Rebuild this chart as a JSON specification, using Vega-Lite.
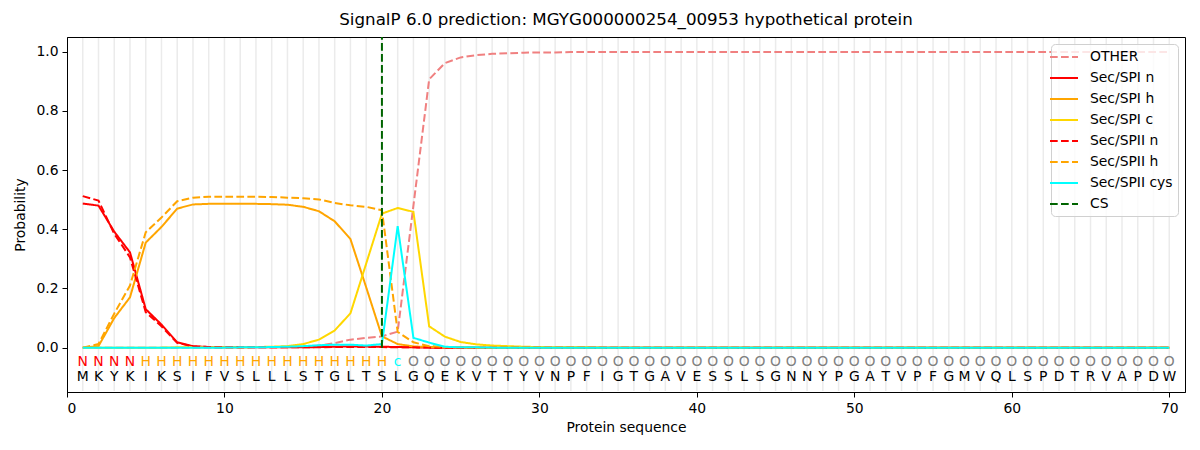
{
  "$schema": "https://vega.github.io/schema/vega-lite/v6.json",
  "autosize": {"type": "none"},
  "width": 1118,
  "height": 355,
  "padding": {"left": 67, "top": 37, "right": 15, "bottom": 58},
  "config": {
    "font": "DejaVu Sans",
    "view": {"stroke": "black", "strokeWidth": 1},
    "axis": {"domainColor": "black", "tickColor": "black", "tickSize": 5, "labelColor": "black", "titleColor": "black", "labelFontSize": 13.9, "titleFontSize": 13.9, "titleFontWeight": "normal", "grid": false, "labelPadding": 4}
  },
  "title": {"text": "SignalP 6.0 prediction: MGYG000000254_00953 hypothetical protein", "fontSize": 16.7, "fontWeight": "normal", "color": "black", "offset": 7},
  "datasets": {
    "probs": [
      {"pos":1,"aa":"M","lab":"N","other":0,"spi_n":0.487,"spi_h":0,"spi_c":0,"spii_n":0.512,"spii_h":0,"spii_cys":0},
      {"pos":2,"aa":"K","lab":"N","other":0,"spi_n":0.480,"spi_h":0.005,"spi_c":0,"spii_n":0.497,"spii_h":0.012,"spii_cys":0},
      {"pos":3,"aa":"Y","lab":"N","other":0,"spi_n":0.392,"spi_h":0.100,"spi_c":0,"spii_n":0.385,"spii_h":0.115,"spii_cys":0},
      {"pos":4,"aa":"K","lab":"N","other":0,"spi_n":0.322,"spi_h":0.170,"spi_c":0,"spii_n":0.305,"spii_h":0.210,"spii_cys":0},
      {"pos":5,"aa":"I","lab":"H","other":0,"spi_n":0.130,"spi_h":0.355,"spi_c":0,"spii_n":0.120,"spii_h":0.390,"spii_cys":0},
      {"pos":6,"aa":"K","lab":"H","other":0,"spi_n":0.078,"spi_h":0.408,"spi_c":0,"spii_n":0.072,"spii_h":0.440,"spii_cys":0},
      {"pos":7,"aa":"S","lab":"H","other":0,"spi_n":0.018,"spi_h":0.470,"spi_c":0.001,"spii_n":0.016,"spii_h":0.495,"spii_cys":0},
      {"pos":8,"aa":"I","lab":"H","other":0,"spi_n":0.005,"spi_h":0.484,"spi_c":0.001,"spii_n":0.004,"spii_h":0.507,"spii_cys":0},
      {"pos":9,"aa":"F","lab":"H","other":0,"spi_n":0.002,"spi_h":0.486,"spi_c":0.001,"spii_n":0.002,"spii_h":0.510,"spii_cys":0},
      {"pos":10,"aa":"V","lab":"H","other":0,"spi_n":0.001,"spi_h":0.486,"spi_c":0.001,"spii_n":0.001,"spii_h":0.510,"spii_cys":0},
      {"pos":11,"aa":"S","lab":"H","other":0,"spi_n":0.001,"spi_h":0.486,"spi_c":0.001,"spii_n":0.001,"spii_h":0.510,"spii_cys":0.001},
      {"pos":12,"aa":"L","lab":"H","other":0.001,"spi_n":0.001,"spi_h":0.486,"spi_c":0.002,"spii_n":0.001,"spii_h":0.510,"spii_cys":0.001},
      {"pos":13,"aa":"L","lab":"H","other":0.001,"spi_n":0.001,"spi_h":0.485,"spi_c":0.003,"spii_n":0.001,"spii_h":0.509,"spii_cys":0.002},
      {"pos":14,"aa":"L","lab":"H","other":0.002,"spi_n":0.001,"spi_h":0.483,"spi_c":0.005,"spii_n":0.001,"spii_h":0.507,"spii_cys":0.003},
      {"pos":15,"aa":"S","lab":"H","other":0.003,"spi_n":0.001,"spi_h":0.476,"spi_c":0.012,"spii_n":0.001,"spii_h":0.505,"spii_cys":0.005},
      {"pos":16,"aa":"T","lab":"H","other":0.007,"spi_n":0.002,"spi_h":0.461,"spi_c":0.027,"spii_n":0.001,"spii_h":0.501,"spii_cys":0.008},
      {"pos":17,"aa":"G","lab":"H","other":0.015,"spi_n":0.003,"spi_h":0.427,"spi_c":0.058,"spii_n":0.002,"spii_h":0.489,"spii_cys":0.010},
      {"pos":18,"aa":"L","lab":"H","other":0.027,"spi_n":0.004,"spi_h":0.367,"spi_c":0.116,"spii_n":0.002,"spii_h":0.481,"spii_cys":0.010},
      {"pos":19,"aa":"T","lab":"H","other":0.033,"spi_n":0.004,"spi_h":0.204,"spi_c":0.284,"spii_n":0.002,"spii_h":0.476,"spii_cys":0.007},
      {"pos":20,"aa":"S","lab":"H","other":0.038,"spi_n":0.003,"spi_h":0.038,"spi_c":0.453,"spii_n":0.002,"spii_h":0.464,"spii_cys":0.012},
      {"pos":21,"aa":"L","lab":"c","other":0.054,"spi_n":0.002,"spi_h":0.012,"spi_c":0.472,"spii_n":0.001,"spii_h":0.053,"spii_cys":0.411},
      {"pos":22,"aa":"G","lab":"O","other":0.480,"spi_n":0.001,"spi_h":0.004,"spi_c":0.459,"spii_n":0.001,"spii_h":0.018,"spii_cys":0.033},
      {"pos":23,"aa":"Q","lab":"O","other":0.907,"spi_n":0,"spi_h":0.002,"spi_c":0.072,"spii_n":0,"spii_h":0.005,"spii_cys":0.017},
      {"pos":24,"aa":"E","lab":"O","other":0.962,"spi_n":0,"spi_h":0.001,"spi_c":0.037,"spii_n":0,"spii_h":0.002,"spii_cys":0.003},
      {"pos":25,"aa":"K","lab":"O","other":0.981,"spi_n":0,"spi_h":0.001,"spi_c":0.019,"spii_n":0,"spii_h":0.001,"spii_cys":0.001},
      {"pos":26,"aa":"V","lab":"O","other":0.989,"spi_n":0,"spi_h":0,"spi_c":0.011,"spii_n":0,"spii_h":0,"spii_cys":0.001},
      {"pos":27,"aa":"T","lab":"O","other":0.993,"spi_n":0,"spi_h":0,"spi_c":0.007,"spii_n":0,"spii_h":0,"spii_cys":0},
      {"pos":28,"aa":"T","lab":"O","other":0.995,"spi_n":0,"spi_h":0,"spi_c":0.005,"spii_n":0,"spii_h":0,"spii_cys":0},
      {"pos":29,"aa":"Y","lab":"O","other":0.997,"spi_n":0,"spi_h":0,"spi_c":0.003,"spii_n":0,"spii_h":0,"spii_cys":0},
      {"pos":30,"aa":"V","lab":"O","other":0.998,"spi_n":0,"spi_h":0,"spi_c":0.002,"spii_n":0,"spii_h":0,"spii_cys":0},
      {"pos":31,"aa":"N","lab":"O","other":0.998,"spi_n":0,"spi_h":0,"spi_c":0.001,"spii_n":0,"spii_h":0,"spii_cys":0},
      {"pos":32,"aa":"P","lab":"O","other":0.999,"spi_n":0,"spi_h":0,"spi_c":0.001,"spii_n":0,"spii_h":0,"spii_cys":0},
      {"pos":33,"aa":"F","lab":"O","other":0.999,"spi_n":0,"spi_h":0,"spi_c":0.001,"spii_n":0,"spii_h":0,"spii_cys":0},
      {"pos":34,"aa":"I","lab":"O","other":0.999,"spi_n":0,"spi_h":0,"spi_c":0,"spii_n":0,"spii_h":0,"spii_cys":0},
      {"pos":35,"aa":"G","lab":"O","other":0.999,"spi_n":0,"spi_h":0,"spi_c":0,"spii_n":0,"spii_h":0,"spii_cys":0},
      {"pos":36,"aa":"T","lab":"O","other":0.999,"spi_n":0,"spi_h":0,"spi_c":0,"spii_n":0,"spii_h":0,"spii_cys":0},
      {"pos":37,"aa":"G","lab":"O","other":0.999,"spi_n":0,"spi_h":0,"spi_c":0,"spii_n":0,"spii_h":0,"spii_cys":0},
      {"pos":38,"aa":"A","lab":"O","other":0.999,"spi_n":0,"spi_h":0,"spi_c":0,"spii_n":0,"spii_h":0,"spii_cys":0},
      {"pos":39,"aa":"V","lab":"O","other":0.999,"spi_n":0,"spi_h":0,"spi_c":0,"spii_n":0,"spii_h":0,"spii_cys":0},
      {"pos":40,"aa":"E","lab":"O","other":0.999,"spi_n":0,"spi_h":0,"spi_c":0,"spii_n":0,"spii_h":0,"spii_cys":0},
      {"pos":41,"aa":"S","lab":"O","other":0.999,"spi_n":0,"spi_h":0,"spi_c":0,"spii_n":0,"spii_h":0,"spii_cys":0},
      {"pos":42,"aa":"S","lab":"O","other":0.999,"spi_n":0,"spi_h":0,"spi_c":0,"spii_n":0,"spii_h":0,"spii_cys":0},
      {"pos":43,"aa":"L","lab":"O","other":0.999,"spi_n":0,"spi_h":0,"spi_c":0,"spii_n":0,"spii_h":0,"spii_cys":0},
      {"pos":44,"aa":"S","lab":"O","other":0.999,"spi_n":0,"spi_h":0,"spi_c":0,"spii_n":0,"spii_h":0,"spii_cys":0},
      {"pos":45,"aa":"G","lab":"O","other":0.999,"spi_n":0,"spi_h":0,"spi_c":0,"spii_n":0,"spii_h":0,"spii_cys":0},
      {"pos":46,"aa":"N","lab":"O","other":0.999,"spi_n":0,"spi_h":0,"spi_c":0,"spii_n":0,"spii_h":0,"spii_cys":0},
      {"pos":47,"aa":"N","lab":"O","other":0.999,"spi_n":0,"spi_h":0,"spi_c":0,"spii_n":0,"spii_h":0,"spii_cys":0},
      {"pos":48,"aa":"Y","lab":"O","other":0.999,"spi_n":0,"spi_h":0,"spi_c":0,"spii_n":0,"spii_h":0,"spii_cys":0},
      {"pos":49,"aa":"P","lab":"O","other":0.999,"spi_n":0,"spi_h":0,"spi_c":0,"spii_n":0,"spii_h":0,"spii_cys":0},
      {"pos":50,"aa":"G","lab":"O","other":0.999,"spi_n":0,"spi_h":0,"spi_c":0,"spii_n":0,"spii_h":0,"spii_cys":0},
      {"pos":51,"aa":"A","lab":"O","other":0.999,"spi_n":0,"spi_h":0,"spi_c":0,"spii_n":0,"spii_h":0,"spii_cys":0},
      {"pos":52,"aa":"T","lab":"O","other":0.999,"spi_n":0,"spi_h":0,"spi_c":0,"spii_n":0,"spii_h":0,"spii_cys":0},
      {"pos":53,"aa":"V","lab":"O","other":0.999,"spi_n":0,"spi_h":0,"spi_c":0,"spii_n":0,"spii_h":0,"spii_cys":0},
      {"pos":54,"aa":"P","lab":"O","other":0.999,"spi_n":0,"spi_h":0,"spi_c":0,"spii_n":0,"spii_h":0,"spii_cys":0},
      {"pos":55,"aa":"F","lab":"O","other":0.999,"spi_n":0,"spi_h":0,"spi_c":0,"spii_n":0,"spii_h":0,"spii_cys":0},
      {"pos":56,"aa":"G","lab":"O","other":0.999,"spi_n":0,"spi_h":0,"spi_c":0,"spii_n":0,"spii_h":0,"spii_cys":0},
      {"pos":57,"aa":"M","lab":"O","other":0.999,"spi_n":0,"spi_h":0,"spi_c":0,"spii_n":0,"spii_h":0,"spii_cys":0},
      {"pos":58,"aa":"V","lab":"O","other":0.999,"spi_n":0,"spi_h":0,"spi_c":0,"spii_n":0,"spii_h":0,"spii_cys":0},
      {"pos":59,"aa":"Q","lab":"O","other":0.999,"spi_n":0,"spi_h":0,"spi_c":0,"spii_n":0,"spii_h":0,"spii_cys":0},
      {"pos":60,"aa":"L","lab":"O","other":0.999,"spi_n":0,"spi_h":0,"spi_c":0,"spii_n":0,"spii_h":0,"spii_cys":0},
      {"pos":61,"aa":"S","lab":"O","other":0.999,"spi_n":0,"spi_h":0,"spi_c":0,"spii_n":0,"spii_h":0,"spii_cys":0},
      {"pos":62,"aa":"P","lab":"O","other":0.999,"spi_n":0,"spi_h":0,"spi_c":0,"spii_n":0,"spii_h":0,"spii_cys":0},
      {"pos":63,"aa":"D","lab":"O","other":0.999,"spi_n":0,"spi_h":0,"spi_c":0,"spii_n":0,"spii_h":0,"spii_cys":0},
      {"pos":64,"aa":"T","lab":"O","other":0.999,"spi_n":0,"spi_h":0,"spi_c":0,"spii_n":0,"spii_h":0,"spii_cys":0},
      {"pos":65,"aa":"R","lab":"O","other":0.999,"spi_n":0,"spi_h":0,"spi_c":0,"spii_n":0,"spii_h":0,"spii_cys":0},
      {"pos":66,"aa":"V","lab":"O","other":0.999,"spi_n":0,"spi_h":0,"spi_c":0,"spii_n":0,"spii_h":0,"spii_cys":0},
      {"pos":67,"aa":"A","lab":"O","other":0.999,"spi_n":0,"spi_h":0,"spi_c":0,"spii_n":0,"spii_h":0,"spii_cys":0},
      {"pos":68,"aa":"P","lab":"O","other":0.999,"spi_n":0,"spi_h":0,"spi_c":0,"spii_n":0,"spii_h":0,"spii_cys":0},
      {"pos":69,"aa":"D","lab":"O","other":0.999,"spi_n":0,"spi_h":0,"spi_c":0,"spii_n":0,"spii_h":0,"spii_cys":0},
      {"pos":70,"aa":"W","lab":"O","other":0.999,"spi_n":0,"spi_h":0,"spi_c":0,"spii_n":0,"spii_h":0,"spii_cys":0}
    ],
    "cs": [{"pos": 20, "series": "cs", "y0": 0, "y1": 1.05}]
  },
  "data": {"name": "probs"},
  "layer": [
    {
      "mark": {"type": "rule", "color": "#ebebeb", "strokeWidth": 1.5},
      "encoding": {
        "x": {"field": "pos", "type": "quantitative"},
        "y": {"datum": -0.147},
        "y2": {"datum": 1.047}
      }
    },
    {
      "transform": [{"fold": ["other", "spi_n", "spi_h", "spi_c", "spii_n", "spii_h", "spii_cys"], "as": ["series", "p"]}],
      "mark": {"type": "line", "strokeWidth": 2},
      "encoding": {
        "x": {"field": "pos", "type": "quantitative", "scale": {"domain": [0, 71], "nice": false, "zero": false}, "axis": {"values": [0, 10, 20, 30, 40, 50, 60, 70], "title": "Protein sequence", "titlePadding": 6}},
        "y": {"field": "p", "type": "quantitative", "scale": {"domain": [-0.15, 1.05], "nice": false, "zero": false}, "axis": {"values": [0, 0.2, 0.4, 0.6, 0.8, 1.0], "format": ".1f", "title": "Probability", "titlePadding": 8}},
        "color": {
          "field": "series", "type": "nominal",
          "scale": {"domain": ["other", "spi_n", "spi_h", "spi_c", "spii_n", "spii_h", "spii_cys", "cs"], "range": ["#F08080", "#FF0000", "#FFA500", "#FFD700", "#FF0000", "#FFA500", "#00FFFF", "#006400"]},
          "legend": {
            "title": null,
            "orient": "top-right",
            "offset": 7,
            "padding": 5,
            "strokeColor": "#d0d0d0",
            "fillColor": "rgba(255,255,255,0.8)",
            "cornerRadius": 4,
            "labelFontSize": 13.9,
            "labelColor": "black",
            "symbolType": "M-2,0H2",
            "symbolSize": 196,
            "symbolStrokeWidth": 2,
            "labelOffset": 18,
            "rowPadding": 6,
            "labelExpr": "datum.label == 'other' ? 'OTHER' : datum.label == 'spi_n' ? 'Sec/SPI n' : datum.label == 'spi_h' ? 'Sec/SPI h' : datum.label == 'spi_c' ? 'Sec/SPI c' : datum.label == 'spii_n' ? 'Sec/SPII n' : datum.label == 'spii_h' ? 'Sec/SPII h' : datum.label == 'spii_cys' ? 'Sec/SPII cys' : 'CS'"
          }
        },
        "strokeDash": {
          "field": "series", "type": "nominal",
          "scale": {"domain": ["other", "spi_n", "spi_h", "spi_c", "spii_n", "spii_h", "spii_cys", "cs"], "range": [[7.7, 3.3], [1, 0], [1, 0], [1, 0], [7.7, 3.3], [7.7, 3.3], [1, 0], [7.7, 3.3]]},
          "legend": {
            "title": null,
            "orient": "top-right",
            "offset": 7,
            "padding": 5,
            "strokeColor": "#d0d0d0",
            "fillColor": "rgba(255,255,255,0.8)",
            "cornerRadius": 4,
            "labelFontSize": 13.9,
            "labelColor": "black",
            "symbolType": "M-2,0H2",
            "symbolSize": 196,
            "symbolStrokeWidth": 2,
            "labelOffset": 18,
            "rowPadding": 6,
            "labelExpr": "datum.label == 'other' ? 'OTHER' : datum.label == 'spi_n' ? 'Sec/SPI n' : datum.label == 'spi_h' ? 'Sec/SPI h' : datum.label == 'spi_c' ? 'Sec/SPI c' : datum.label == 'spii_n' ? 'Sec/SPII n' : datum.label == 'spii_h' ? 'Sec/SPII h' : datum.label == 'spii_cys' ? 'Sec/SPII cys' : 'CS'"
          }
        }
      }
    },
    {
      "data": {"name": "cs"},
      "mark": {"type": "rule", "strokeWidth": 2},
      "encoding": {
        "x": {"field": "pos", "type": "quantitative"},
        "y": {"field": "y0", "type": "quantitative"},
        "y2": {"field": "y1"},
        "color": {"field": "series", "type": "nominal"},
        "strokeDash": {"field": "series", "type": "nominal"}
      }
    },
    {
      "mark": {"type": "text", "fontSize": 13.9, "baseline": "middle", "align": "center"},
      "encoding": {
        "x": {"field": "pos", "type": "quantitative"},
        "y": {"datum": -0.1},
        "text": {"field": "aa"},
        "color": {"value": "black"}
      }
    },
    {
      "mark": {"type": "text", "fontSize": 13.9, "baseline": "middle", "align": "center"},
      "encoding": {
        "x": {"field": "pos", "type": "quantitative"},
        "y": {"datum": -0.047},
        "text": {"field": "lab"},
        "color": {
          "condition": [
            {"test": "datum.lab == 'N'", "value": "#FF0000"},
            {"test": "datum.lab == 'H'", "value": "#FFA500"},
            {"test": "datum.lab == 'c'", "value": "#00FFFF"}
          ],
          "value": "#808080"
        }
      }
    }
  ]
}
